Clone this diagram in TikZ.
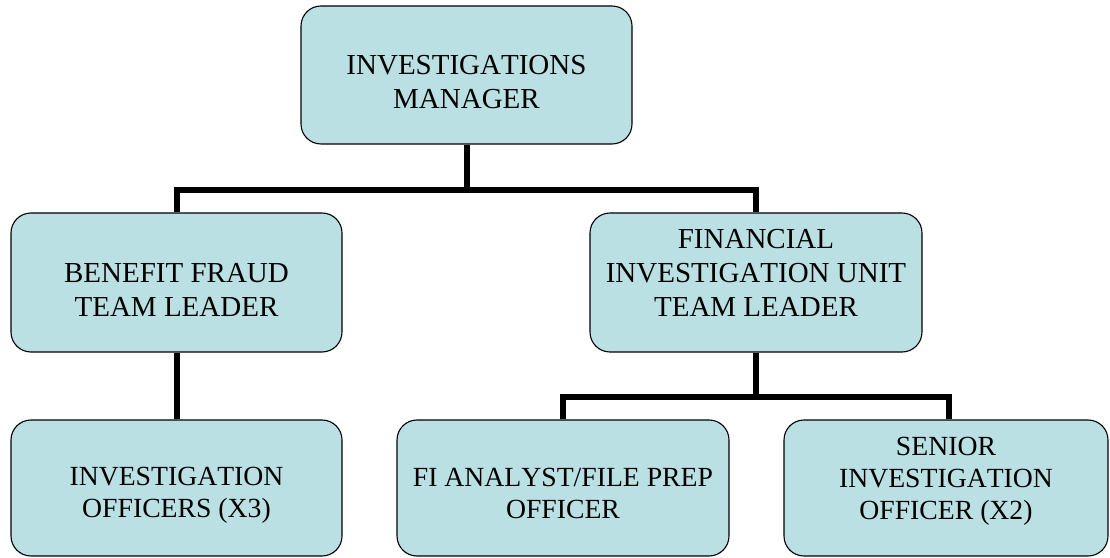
\documentclass[tikz,border=0pt]{standalone}
\usepackage{fontspec}
\setmainfont{Liberation Serif}[Kerning=Off]
\usetikzlibrary{calc}
\definecolor{boxfill}{RGB}{187,224,227}
\begin{document}
\begin{tikzpicture}[x=1pt,y=1pt,
  orgbox/.style={draw=black, line width=1.1pt, fill=boxfill, rounded corners=20pt, inner sep=0pt},
  bigtxt/.style={align=center, inner sep=0pt, anchor=north, font=\fontsize{29}{34}\selectfont},
  smalltxt/.style={align=center, inner sep=0pt, anchor=north, font=\fontsize{27.7}{32.3}\selectfont},
  conn/.style={line width=6pt, line join=miter, draw=black}]
\useasboundingbox (0,0) rectangle (1110,557);
% boxes (y measured from the bottom)
\node[orgbox, minimum width=331pt, minimum height=138pt] (top) at (466.5,482) {};
\node[orgbox, minimum width=331pt, minimum height=139pt] (benefit) at (176.5,274.5) {};
\node[orgbox, minimum width=332pt, minimum height=139pt] (fiu) at (756,274.5) {};
\node[orgbox, minimum width=331pt, minimum height=136pt] (officers) at (176.5,69) {};
\node[orgbox, minimum width=332pt, minimum height=136pt] (fi) at (563,69) {};
\node[orgbox, minimum width=324pt, minimum height=136pt] (senior) at (946,69) {};
% connectors
\coordinate (bus1) at (466.5,367);
\coordinate (bus2) at (756,160);
\coordinate (sdrop) at (949,160);
\draw[conn] (top.south) -- (bus1);
\draw[conn] (benefit.north) |- (bus1) -| (fiu.north);
\draw[conn] (benefit.south) -- (officers.north);
\draw[conn] (fiu.south) -- (bus2);
\draw[conn] (fi.north) |- (sdrop) -- (sdrop |- senior.north);
% texts
\node[bigtxt] (top-t) at (466.5,502) {INVESTIGATIONS\\MANAGER};
\node[bigtxt] (benefit-t) at (176.5,293.7) {BENEFIT FRAUD\\TEAM LEADER};
\node[bigtxt] (fiu-t) at (756,327.7) {FINANCIAL\\INVESTIGATION UNIT\\TEAM LEADER};
\node[smalltxt] (officers-t) at (176.5,90.3) {INVESTIGATION\\OFFICERS (X3)};
\node[smalltxt] (fi-t) at (563,89) {FI ANALYST/FILE PREP\\OFFICER};
\node[smalltxt] (senior-t) at (946,120.3) {SENIOR\\INVESTIGATION\\OFFICER (X2)};
\end{tikzpicture}
\end{document}
